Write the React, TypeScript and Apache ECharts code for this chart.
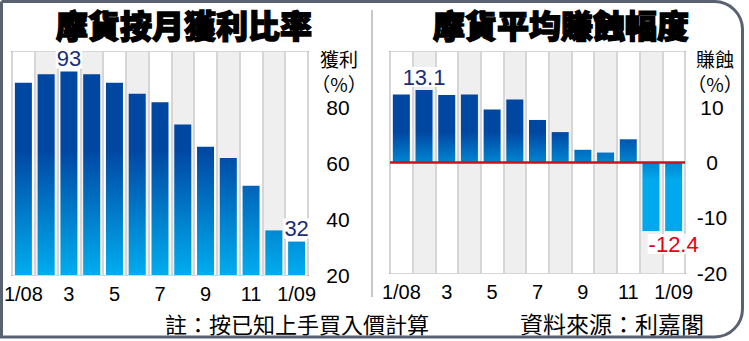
import React, { useEffect, useRef } from "react";
import * as echarts from "echarts";

const categories = ["1/08", "2", "3", "4", "5", "6", "7", "8", "9", "10", "11", "12", "1/09"];
const profitRatio = [89, 92, 93, 92, 89, 85, 82, 74, 66, 62, 52, 36, 32];
const avgReturn = [12.3, 13.1, 12.2, 12.3, 9.6, 11.4, 7.7, 5.5, 2.3, 1.8, 4.2, -12.4, -12.4];
const leftRange = { min: 20, max: 100, interval: 20 };
const rightRange = { min: -20, max: 20, interval: 10 };
const leftTitle = "摩貨按月獲利比率";
const rightTitle = "摩貨平均賺蝕幅度";
const leftUnit = ["獲利", "（%）"];
const rightUnit = ["賺蝕", "（%）"];
const noteText = "註：按已知上手買入價計算";
const sourceText = "資料來源：利嘉閣";

const NUM_FONT = "'Liberation Sans', Arial, sans-serif";
const CJK_FONT = "'Noto Sans CJK TC', 'Noto Sans CJK SC', sans-serif";

function labelled(values: number[], color: (v: number) => string) {
  let maxIdx = 0;
  values.forEach((v, i) => {
    if (v > values[maxIdx]) maxIdx = i;
  });
  const last = values.length - 1;
  return values.map((v, i) => {
    if (i !== maxIdx && i !== last) return v;
    return {
      value: v,
      label: {
        show: true,
        position: v >= 0 ? "top" : "bottom",
        distance: 3,
        color: color(v),
        fontSize: 22,
        fontFamily: NUM_FONT,
        backgroundColor: "#ffffff",
        padding: [0, 1, 0, 1],
        lineHeight: 20,
      },
    };
  });
}

export default function App() {
  const ref = useRef<HTMLDivElement>(null);
  useEffect(() => {
    if (!ref.current) return;
    const chart = echarts.init(ref.current, undefined, { renderer: "svg" });
    const xAxisBase = {
      type: "category" as const,
      data: categories,
      axisLine: { show: false },
      axisTick: { show: false },
      splitLine: { show: true, interval: 0, lineStyle: { color: "#d6d6d6", width: 2 } },
      splitArea: { show: true, interval: 0, areaStyle: { color: ["#ffffff", "#efefef"] } },
      axisLabel: {
        interval: 1,
        color: "#000",
        fontSize: 20,
        fontFamily: NUM_FONT,
        margin: 9,
      },
    };
    const yAxisBase = {
      type: "value" as const,
      position: "right" as const,
      axisLine: { show: false },
      axisTick: { show: false },
      splitLine: { show: true, lineStyle: { color: "#d6d6d6", width: 2 } },
    };
    const leftGrad = new echarts.graphic.LinearGradient(
      0, 150, 0, 275,
      [
        { offset: 0, color: "#0047a2" },
        { offset: 1, color: "#00adef" },
      ],
      true
    );
    const rightGrad = new echarts.graphic.LinearGradient(
      0, 132, 0, 180,
      [
        { offset: 0, color: "#0047a2" },
        { offset: 1, color: "#00a9ed" },
      ],
      true
    );
    const unitText = (x: number, lines: string[]) =>
      lines.map((t, i) => ({
        type: "text",
        x,
        y: i === 0 ? 58 : 83,
        style: {
          text: t,
          fill: "#000",
          fontSize: 19,
          fontFamily: CJK_FONT,
          align: "center",
          verticalAlign: "middle",
        },
      }));
    const titleText = (x: number, text: string) => ({
      type: "text",
      x,
      y: 24,
      style: {
        text,
        fill: "#000",
        fontSize: 32,
        fontWeight: 900,
        fontFamily: CJK_FONT,
        align: "center",
        verticalAlign: "middle",
        stroke: "#000",
        lineWidth: 1.4,
        shadowColor: "rgba(0,0,0,0.3)",
        shadowBlur: 2,
        shadowOffsetX: 1,
        shadowOffsetY: 1,
      },
    });
    const yLabel = (margin: number) => ({
      color: "#000",
      fontSize: 21,
      fontFamily: NUM_FONT,
      align: "center",
      margin,
      showMaxLabel: false,
    });
    chart.setOption({
      animation: false,
      backgroundColor: "#ffffff",
      grid: [
        { left: 12, top: 52, width: 296, height: 223, show: true, borderColor: "#a8a8a8", borderWidth: 2, backgroundColor: "transparent" },
        { left: 390, top: 52, width: 295, height: 221, show: true, borderColor: "#a8a8a8", borderWidth: 2, backgroundColor: "transparent" },
      ],
      xAxis: [
        { ...xAxisBase, gridIndex: 0 },
        { ...xAxisBase, gridIndex: 1 },
      ],
      yAxis: [
        { ...yAxisBase, gridIndex: 0, ...leftRange, axisLabel: yLabel(30) },
        { ...yAxisBase, gridIndex: 1, ...rightRange, axisLabel: yLabel(27) },
      ],
      series: [
        {
          type: "bar",
          xAxisIndex: 0,
          yAxisIndex: 0,
          barWidth: 17,
          data: labelled(profitRatio, () => "#1a2e78"),
          itemStyle: { color: leftGrad },
        },
        {
          type: "bar",
          xAxisIndex: 1,
          yAxisIndex: 1,
          barWidth: 17,
          data: labelled(avgReturn, (v) => (v >= 0 ? "#1a2e78" : "#e60012")),
          itemStyle: { color: rightGrad },
          markLine: {
            silent: true,
            symbol: "none",
            label: { show: false },
            lineStyle: { color: "#c8141e", width: 2.5, type: "solid" },
            data: [{ yAxis: 0 }],
          },
        },
      ],
      graphic: [
        {
          type: "rect",
          shape: { x: 1.5, y: 1.5, width: 741, height: 335.5, r: [0, 28, 28, 0] },
          style: { fill: "none", stroke: "#5a6270", lineWidth: 3 },
          z: 100,
        },
        {
          type: "line",
          shape: { x1: 372, y1: 10, x2: 372, y2: 297 },
          style: { stroke: "#c8c8c8", lineWidth: 2 },
        },
        titleText(184, leftTitle),
        titleText(561, rightTitle),
        ...unitText(339, leftUnit),
        ...unitText(715, rightUnit),
        {
          type: "text",
          x: 165,
          y: 323,
          style: {
            text: noteText,
            fill: "#000",
            fontSize: 22,
            fontFamily: CJK_FONT,
            verticalAlign: "middle",
          },
        },
        {
          type: "text",
          x: 520,
          y: 323,
          style: {
            text: sourceText,
            fill: "#000",
            fontSize: 23,
            fontFamily: CJK_FONT,
            verticalAlign: "middle",
          },
        },
      ],
    });
    return () => chart.dispose();
  }, []);
  return (
    <div
      ref={ref}
      style={{ position: "fixed", left: 0, top: 0, width: 749, height: 341, background: "#fff" }}
    />
  );
}
